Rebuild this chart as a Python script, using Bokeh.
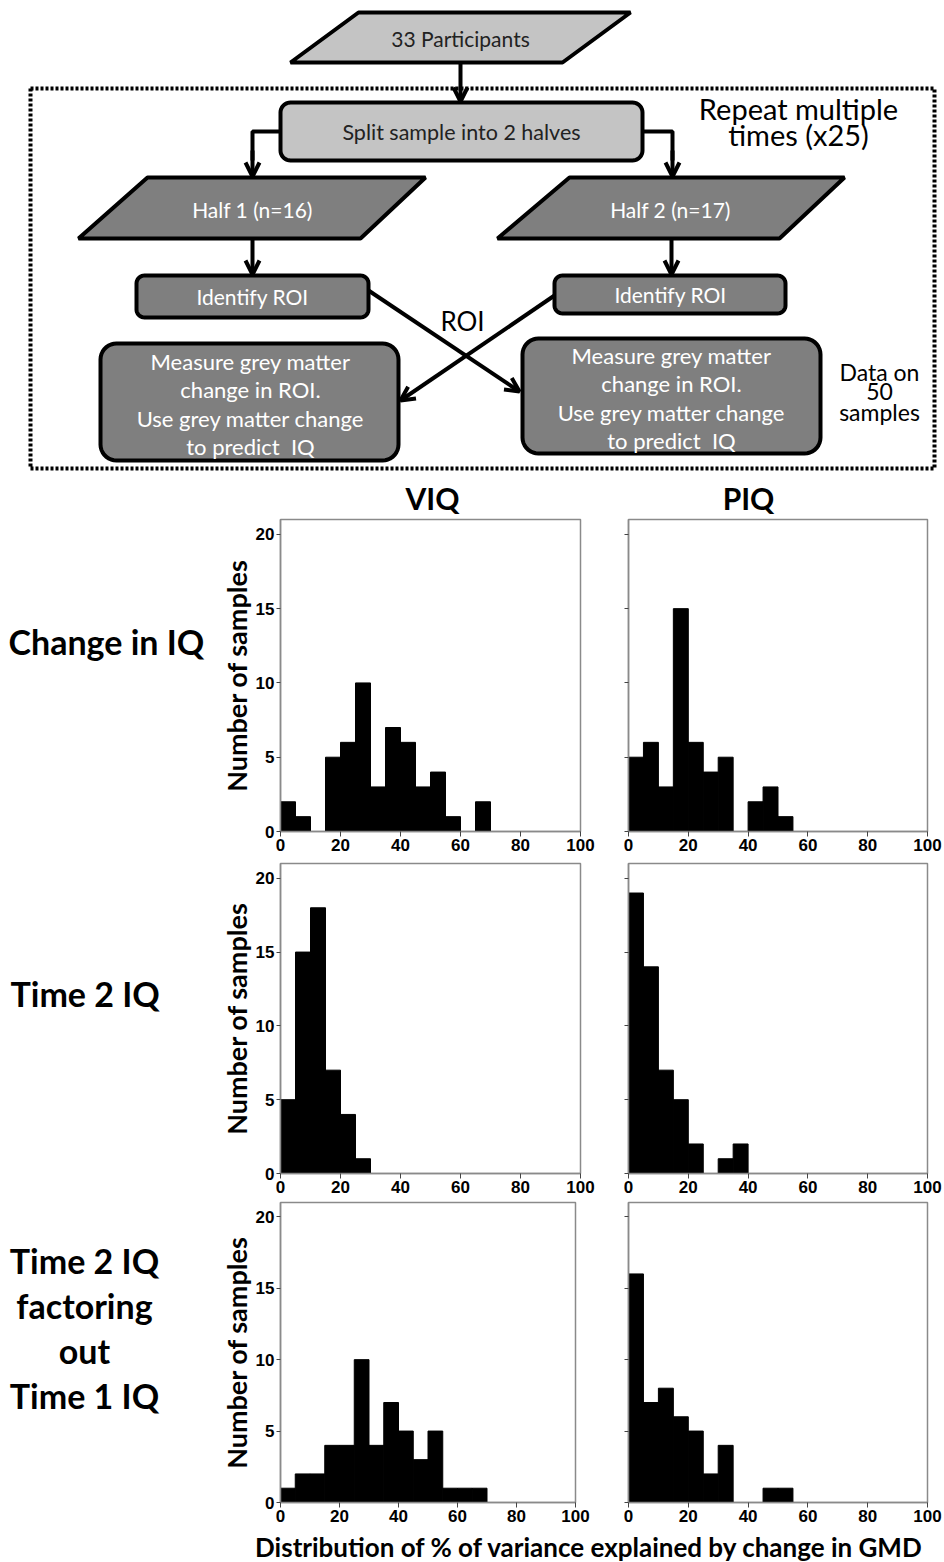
import numpy as np
from bokeh.plotting import figure
from bokeh.layouts import column, row
from bokeh.models import Range1d, Arrow, OpenHead, FixedTicker
from bokeh.core.properties import value
from bokeh.embed import file_html
from bokeh.resources import INLINE

# ---------------- data ----------------
bin_left = [0, 5, 10, 15, 20, 25, 30, 35, 40, 45, 50, 55, 60, 65, 70, 75, 80, 85, 90, 95]
bin_right = [5, 10, 15, 20, 25, 30, 35, 40, 45, 50, 55, 60, 65, 70, 75, 80, 85, 90, 95, 100]

viq_change = [2, 1, 0, 5, 6, 10, 3, 7, 6, 3, 4, 1, 0, 2, 0, 0, 0, 0, 0, 0]
piq_change = [5, 6, 3, 15, 6, 4, 5, 0, 2, 3, 1, 0, 0, 0, 0, 0, 0, 0, 0, 0]
viq_time2 = [5, 15, 18, 7, 4, 1, 0, 0, 0, 0, 0, 0, 0, 0, 0, 0, 0, 0, 0, 0]
piq_time2 = [19, 14, 7, 5, 2, 0, 1, 2, 0, 0, 0, 0, 0, 0, 0, 0, 0, 0, 0, 0]
viq_factor = [1, 2, 2, 4, 4, 10, 4, 7, 5, 3, 5, 1, 1, 1, 0, 0, 0, 0, 0, 0]
piq_factor = [16, 7, 8, 6, 5, 2, 4, 0, 0, 1, 1, 0, 0, 0, 0, 0, 0, 0, 0, 0]

col_labels = ["VIQ", "PIQ"]
row_labels = [["Change in IQ"], ["Time 2 IQ"], ["Time 2 IQ", "factoring", "out", "Time 1 IQ"]]
x_ticks = [0, 20, 40, 60, 80, 100]
y_ticks = [0, 5, 10, 15, 20]
y_title = "Number of samples"
x_title = "Distribution of % of variance explained by change in GMD"

LIGHT = "#c4c4c4"
DARK = "#7f7f7f"
FONT = "Lato"


def base_fig(w, h, bt=0, bb=0):
    # data coordinates equal pixel offsets from the figure's top-left corner
    p = figure(width=w, height=h, output_backend="svg", toolbar_location=None,
               min_border_left=0, min_border_right=0, min_border_top=bt, min_border_bottom=bb,
               x_range=Range1d(0, w), y_range=Range1d(h - bb, bt))
    p.axis.visible = False
    p.grid.visible = False
    p.outline_line_color = None
    p.background_fill_color = "white"
    p.border_fill_color = "white"
    return p


def rrect_pts(x0, y0, x1, y1, r, n=10):
    xs, ys = [], []
    corners = [(x1 - r, y0 + r, -90, 0), (x1 - r, y1 - r, 0, 90),
               (x0 + r, y1 - r, 90, 180), (x0 + r, y0 + r, 180, 270)]
    for cx, cy, a0, a1 in corners:
        t = np.radians(np.linspace(a0, a1, n))
        xs += list(cx + r * np.cos(t))
        ys += list(cy + r * np.sin(t))
    return xs, ys


def txt(p, x, y, s, size, color="black", bold=False, align="center"):
    p.text(x=[x], y=[y], text=[s], text_font=value(FONT), text_font_size=size,
           text_font_style="bold" if bold else "normal", text_color=color,
           text_align=align, text_baseline="middle")


def arrow(p, x0, y0, x1, y1):
    p.add_layout(Arrow(end=OpenHead(size=14, line_width=4, line_color="black"),
                       x_start=x0, y_start=y0, x_end=x1, y_end=y1,
                       line_width=4, line_color="black"))


# ---------------- flowchart ----------------
TOP_H = 518
top = base_fig(944, TOP_H)

# dotted frame
top.line([30, 934, 934, 30, 30], [88, 88, 468, 468, 88], line_width=4,
         line_color="black", line_dash="3 2")

# 33 participants
top.patch([358, 630, 562, 290], [12, 12, 62, 62], fill_color=LIGHT, line_color="black", line_width=4)
txt(top, 460, 38, "33 Participants", "21px", "#222222")
arrow(top, 460, 62, 460, 101)

# split
xs, ys = rrect_pts(280, 102, 642, 160, 10)
top.patch(xs, ys, fill_color=LIGHT, line_color="black", line_width=4)
txt(top, 461, 131, "Split sample into 2 halves", "21.5px", "#222222")
top.line([280, 252, 252], [131, 131, 160], line_width=4, line_color="black")
top.line([642, 672, 672], [131, 131, 160], line_width=4, line_color="black")
arrow(top, 252, 150, 252, 176)
arrow(top, 672, 150, 672, 176)

# halves
top.patch([147, 425, 360, 78], [177, 177, 238, 238], fill_color=DARK, line_color="black", line_width=4)
top.patch([569, 844, 779, 497], [177, 177, 238, 238], fill_color=DARK, line_color="black", line_width=4)
txt(top, 252, 209, "Half 1 (n=16)", "21px", "white")
txt(top, 670, 209, "Half 2 (n=17)", "21px", "white")
arrow(top, 252, 238, 252, 274)
arrow(top, 671, 238, 671, 274)

# identify ROI
xs, ys = rrect_pts(136, 275, 368, 317, 8)
top.patch(xs, ys, fill_color=DARK, line_color="black", line_width=4)
xs, ys = rrect_pts(554, 275, 785, 313, 8)
top.patch(xs, ys, fill_color=DARK, line_color="black", line_width=4)
txt(top, 252, 296, "Identify ROI", "21px", "white")
txt(top, 670, 294, "Identify ROI", "21px", "white")

# crossing arrows
arrow(top, 368, 290, 519, 391)
arrow(top, 554, 295, 400, 400)
txt(top, 462, 320, "ROI", "26px", "black")

# measure boxes
xs, ys = rrect_pts(100, 343, 398, 460, 16)
top.patch(xs, ys, fill_color=DARK, line_color="black", line_width=4)
xs, ys = rrect_pts(522, 338, 820, 453, 16)
top.patch(xs, ys, fill_color=DARK, line_color="black", line_width=4)
left_lines = ["Measure grey matter", "change in ROI.", "Use grey matter change", "to predict\u00a0 IQ"]
for s, yy in zip(left_lines, [361, 389, 418, 446]):
    txt(top, 250, yy, s, "22px", "white")
for s, yy in zip(left_lines, [355, 383, 412, 440]):
    txt(top, 671, yy, s, "22px", "white")

# side notes
txt(top, 798, 108, "Repeat multiple", "29px", "black")
txt(top, 798, 134, "times (x25)", "29px", "black")
txt(top, 879, 371, "Data on", "23px", "black")
txt(top, 879, 391, "50", "23px", "black")
txt(top, 879, 411, "samples", "23px", "black")

# column headings
txt(top, 432, 497, col_labels[0], "30px", "black", bold=True)
txt(top, 748, 497, col_labels[1], "30px", "black", bold=True)


# ---------------- histograms ----------------
def hist(counts, w, h, bl, br, bt, bb, ylabels):
    p = figure(width=w, height=h, output_backend="svg", toolbar_location=None,
               x_range=Range1d(0, 100), y_range=Range1d(0, 21),
               min_border_left=bl, min_border_right=br, min_border_top=bt, min_border_bottom=bb)
    l = [a for a, c in zip(bin_left, counts) if c > 0]
    r = [b for b, c in zip(bin_right, counts) if c > 0]
    t = [c for c in counts if c > 0]
    p.quad(left=l, right=r, bottom=0, top=t, fill_color="black", line_color="black", line_width=1)
    p.grid.visible = False
    p.outline_line_color = "#8a8a8a"
    p.outline_line_width = 1.5
    p.xaxis.ticker = FixedTicker(ticks=x_ticks)
    p.yaxis.ticker = FixedTicker(ticks=y_ticks)
    for ax in (p.xaxis[0], p.yaxis[0]):
        ax.axis_line_color = "#8a8a8a"
        ax.axis_line_width = 1.5
        ax.major_tick_line_color = "#444444"
        ax.major_tick_in = 0
        ax.minor_tick_line_color = None
        ax.major_label_text_font = "Liberation Sans"
        ax.major_label_text_font_style = "bold"
        ax.major_label_text_font_size = "17px"
        ax.major_label_text_color = "black"
    p.xaxis[0].major_tick_out = 5
    p.xaxis[0].major_label_standoff = 2
    p.yaxis[0].major_tick_out = 4
    p.yaxis[0].major_label_standoff = 2
    if ylabels:
        p.yaxis[0].axis_label = y_title
        p.yaxis[0].axis_label_text_font = FONT
        p.yaxis[0].axis_label_text_font_style = "bold"
        p.yaxis[0].axis_label_text_font_size = "27px"
        p.yaxis[0].axis_label_standoff = 0
        p.yaxis[0].axis_label_text_color = "black"
    else:
        p.yaxis[0].major_label_overrides = {t_: "" for t_ in y_ticks}
    return p


def label_fig(lines, h, bt, bb, ys, xs, align):
    p = base_fig(210, h, bt, bb)
    for s, yy, xx in zip(lines, ys, xs):
        txt(p, xx, yy, s, "34px", "black", bold=True, align=align)
    return p


# row 1  (page y 518..859)
h1, t1, b1 = 341, 1, 28
r1 = row(label_fig(row_labels[0], h1, t1, b1, [123], [8], "left"),
         hist(viq_change, 390, h1, 70, 20, t1, b1, True),
         hist(piq_change, 344, h1, 28, 17, t1, b1, False), spacing=0)
# row 2  (page y 859..1201)
h2, t2, b2 = 342, 4, 28
r2 = row(label_fig(row_labels[1], h2, t2, b2, [134], [10], "left"),
         hist(viq_time2, 390, h2, 70, 20, t2, b2, True),
         hist(piq_time2, 344, h2, 28, 17, t2, b2, False), spacing=0)
# row 3  (page y 1201..1529)
h3, t3, b3 = 328, 1, 27
r3 = row(label_fig(row_labels[2], h3, t3, b3, [59, 104, 149, 194], [84, 84, 84, 84], "center"),
         hist(viq_factor, 390, h3, 70, 25, t3, b3, True),
         hist(piq_factor, 344, h3, 28, 17, t3, b3, False), spacing=0)

bottom = base_fig(944, 33)
txt(bottom, 589, 17, x_title, "26px", "black", bold=True)

layout = column(top, r1, r2, r3, bottom, spacing=0)

with open("out.html", "w") as f:
    f.write(file_html(layout, INLINE))
